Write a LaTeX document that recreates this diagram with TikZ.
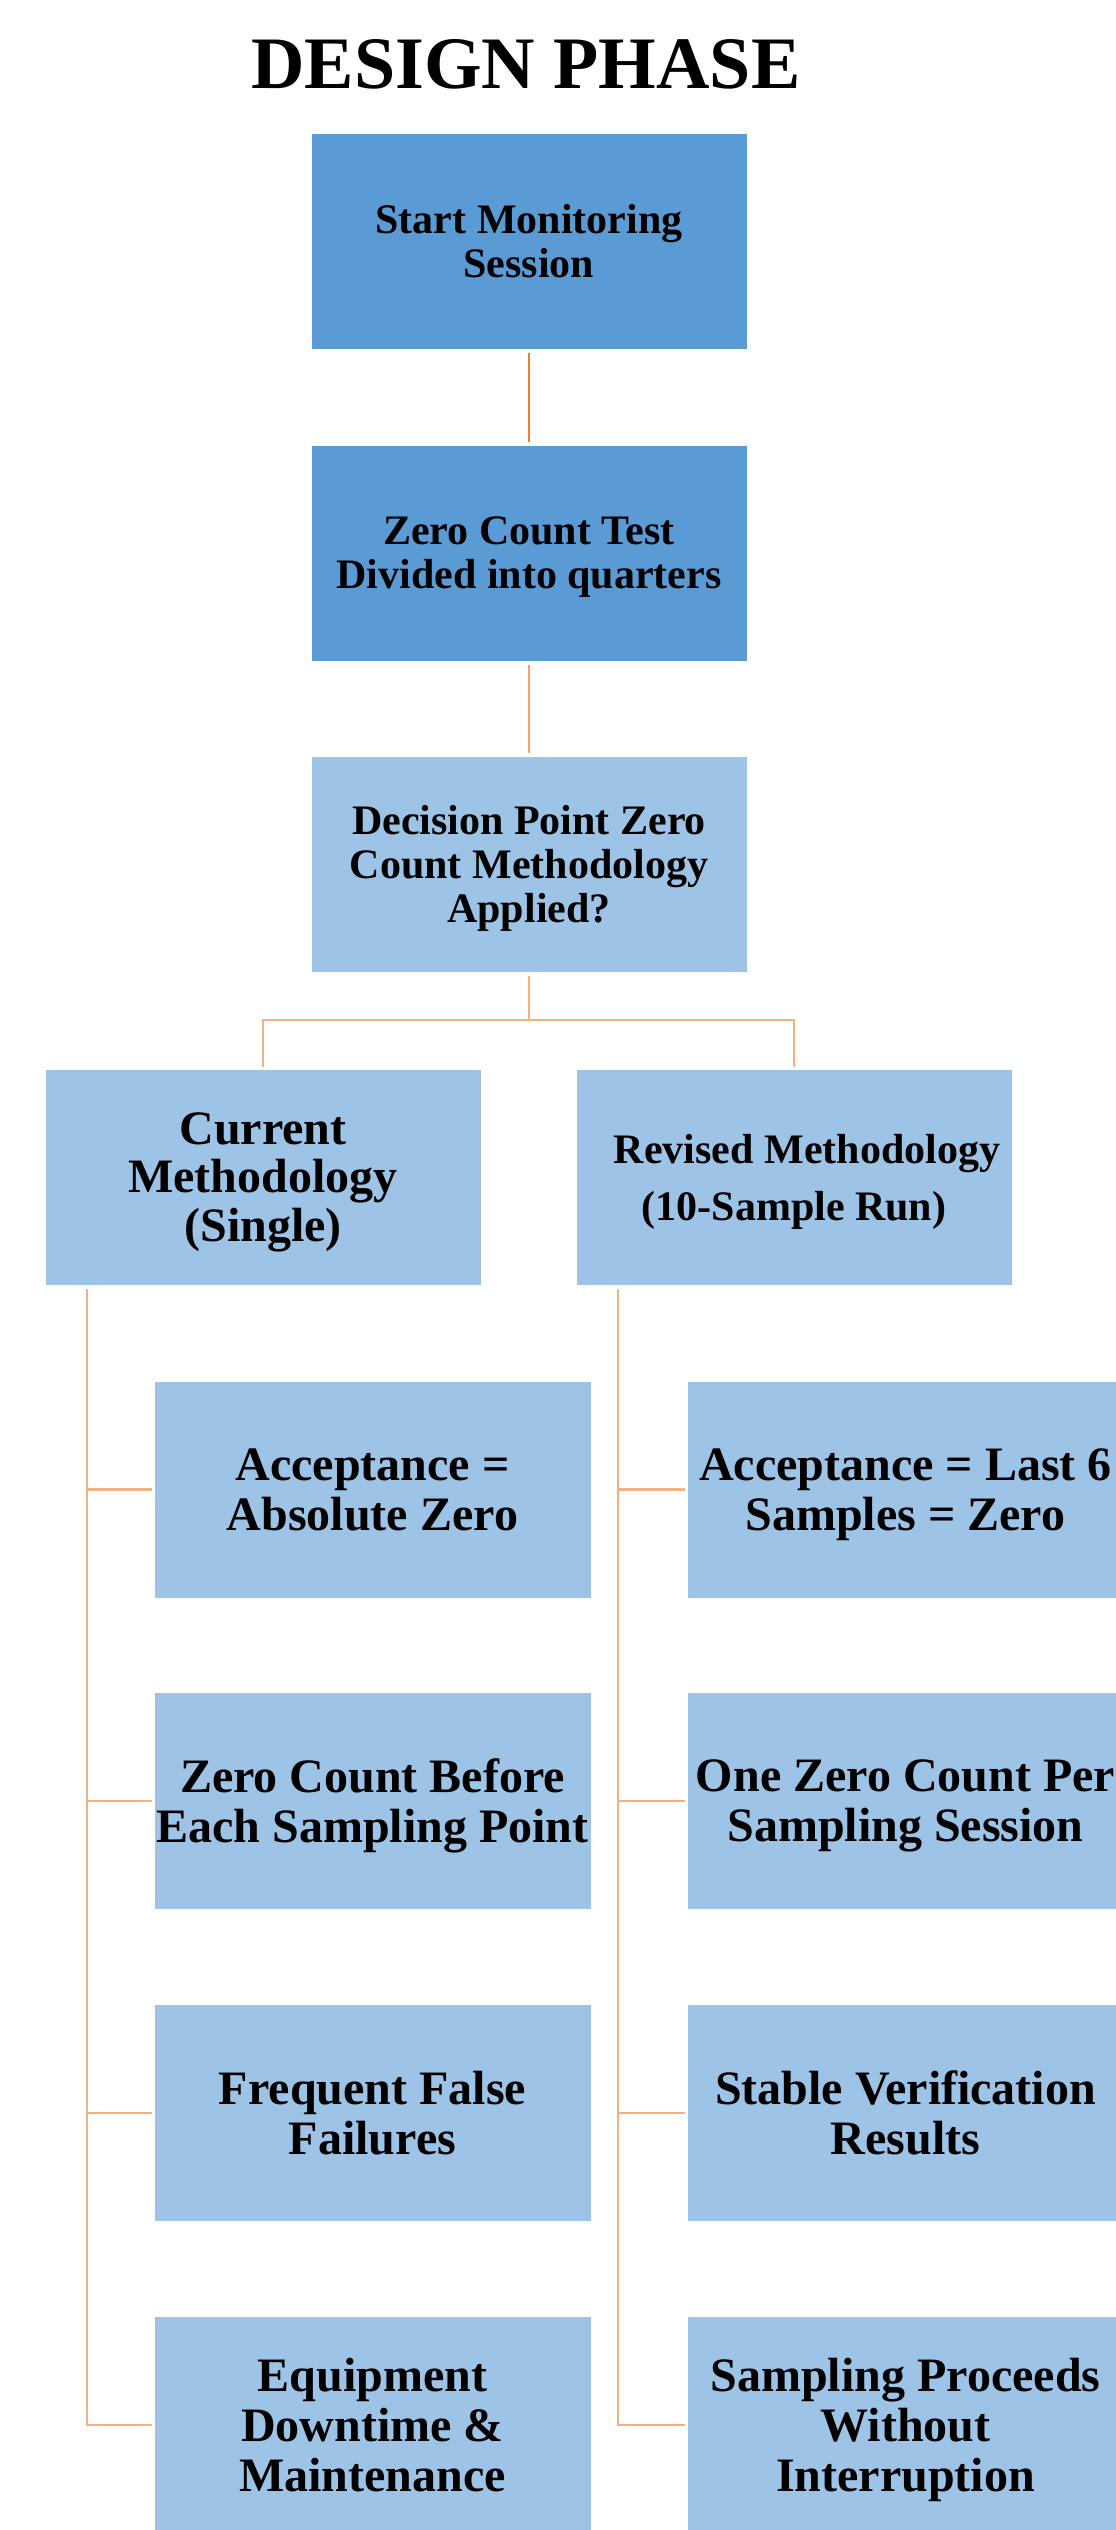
\documentclass[tikz,border=0pt]{standalone}
\usepackage{fontspec}
\setmainfont{Liberation Serif}
\definecolor{darkbox}{HTML}{5B9BD5}
\definecolor{lightbox}{HTML}{9DC3E6}
\definecolor{orangeline}{HTML}{ED7D31}
\definecolor{midline}{HTML}{F1A17A}
\definecolor{salmonline}{HTML}{F4B183}
\newcommand{\nodepth}[1]{\raisebox{0pt}[\height][0pt]{#1}}
\tikzset{
  box/.style={rectangle, draw=white, line width=0.8pt, inner sep=0pt, align=center,
              minimum width=436pt, minimum height=216pt, text=black},
  topbox/.style={box, fill=darkbox, font=\bfseries\fontsize{42}{44}\selectfont},
  decbox/.style={box, fill=lightbox, font=\bfseries\fontsize{42}{44}\selectfont},
  midbox/.style={box, fill=lightbox},
  subbox/.style={box, fill=lightbox, minimum width=437pt, minimum height=217pt,
                 font=\bfseries\fontsize{48}{50}\selectfont},
  conn/.style={draw=salmonline, line width=2.6pt},
}
\begin{document}
\begin{tikzpicture}[x=1pt, y=-1pt]
\useasboundingbox (0,0) rectangle (1116,2530);
\clip (0,0) rectangle (1116,2530);
\fill[white] (0,0) rectangle (1116,2530);

\node[anchor=base, font=\bfseries\fontsize{74}{80}\selectfont, inner sep=0pt] (title) at (526,88) {DESIGN PHASE};

\node[topbox] (b1) at (529,241) {Start Monitoring\\Session};
\node[topbox] (b2) at (529,553) {Zero Count Test\\\nodepth{Divided into quarters}};
\node[decbox] (b3) at (529,864) {Decision Point Zero\\Count Methodology\\\nodepth{Applied?}};

\node[midbox, font=\bfseries\fontsize{48}{48.5}\selectfont] (cur) at (263,1177) {Current\\Methodology\\\nodepth{(Single)}};
\node[midbox, font=\bfseries\fontsize{42}{57}\selectfont] (rev) at (794,1177) {\hspace*{26pt}Revised Methodology\\\nodepth{(10-Sample Run)}};

\node[subbox] (L1) at (372.5,1489.5) {Acceptance =\\Absolute Zero};
\node[subbox] (L2) at (372.5,1801) {Zero Count Before\\\nodepth{Each Sampling Point}};
\node[subbox] (L3) at (372.5,2113) {Frequent False\\Failures};
\node[subbox] (L4) at (372.5,2425) {Equipment\\Downtime \&\\Maintenance};

\node[subbox] (R1) at (905.5,1489.5) {Acceptance = Last 6\\\nodepth{Samples = Zero}};
\node[subbox] (R2) at (905.5,1801) {One Zero Count Per\\\nodepth{Sampling Session}};
\node[subbox] (R3) at (905.5,2113) {Stable Verification\\Results};
\node[subbox] (R4) at (905.5,2425) {Sampling Proceeds\\Without\\\nodepth{Interruption}};

% trunk connectors
\draw[conn, draw=orangeline, shorten <=4pt, shorten >=3pt] (b1.south) -- (b2.north);
\draw[conn, draw=midline, shorten <=4pt, shorten >=3pt] (b2.south) -- (b3.north);

\coordinate (br) at (529,1020);
\draw[conn, shorten <=4pt] (b3.south) -- (br);
\draw[conn, shorten <=2pt, shorten >=2pt] (cur.north) |- (br) -| (rev.north);

% left branch
\coordinate (lt) at (87,1289);
\draw[conn, shorten >=2pt] (lt) |- (L4.west);
\draw[conn, shorten >=2pt] (lt |- L1.west) -- (L1.west);
\draw[conn, shorten >=2pt] (lt |- L2.west) -- (L2.west);
\draw[conn, shorten >=2pt] (lt |- L3.west) -- (L3.west);

% right branch
\coordinate (rt) at (618,1289);
\draw[conn, shorten >=2pt] (rt) |- (R4.west);
\draw[conn, shorten >=2pt] (rt |- R1.west) -- (R1.west);
\draw[conn, shorten >=2pt] (rt |- R2.west) -- (R2.west);
\draw[conn, shorten >=2pt] (rt |- R3.west) -- (R3.west);
\end{tikzpicture}
\end{document}
